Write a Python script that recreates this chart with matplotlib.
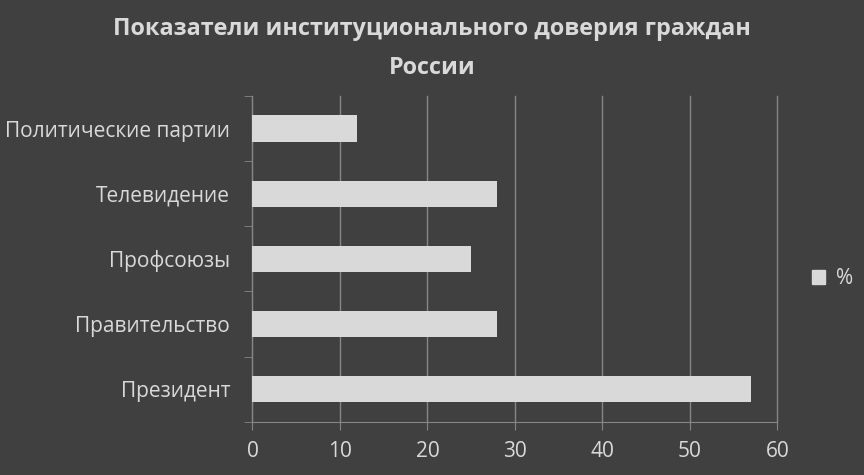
import matplotlib.pyplot as plt
from matplotlib.patches import Patch

categories = ['Президент', 'Правительство', 'Профсоюзы', 'Телевидение', 'Политические партии']
values = [57, 28, 25, 28, 12]
series_name = '%'
title = 'Показатели институционального доверия граждан\nРоссии'

BG = '#404040'
FG = '#d9d9d9'
GRID = '#868686'

plt.rcParams['font.family'] = ['Open Sans', 'DejaVu Sans']

fig = plt.figure(figsize=(8.64, 4.75), dpi=100, facecolor=BG)
ax = fig.add_axes([0.2922, 0.1122, 0.6076, 0.6858], facecolor=BG)

ypos = list(range(len(categories)))
ax.barh(ypos, values, height=0.4, color=FG, zorder=3, label=series_name)

ax.set_xlim(0, 60)
ax.set_ylim(-0.5, len(categories) - 0.5)
ax.set_xticks(range(0, 61, 10))
ax.set_yticks(ypos)
ax.set_yticklabels(categories)
ax.set_yticks([i - 0.5 for i in range(len(categories) + 1)], minor=True)

ax.grid(axis='x', color=GRID, linewidth=1, zorder=0)
for s in ['top', 'right']:
    ax.spines[s].set_visible(False)
ax.spines['left'].set_color(GRID)
ax.spines['bottom'].set_color(GRID)

ax.tick_params(axis='y', which='major', length=0, pad=16, labelsize=15, labelcolor=FG)
ax.tick_params(axis='y', which='minor', length=6, color=GRID, direction='out')
ax.tick_params(axis='x', length=6, color=GRID, labelsize=15, labelcolor=FG, pad=8)

# the last gridline sits on the axes edge, keep it from being clipped
for gl in ax.get_xgridlines():
    gl.set_clip_on(False)

fig.text(0.5, 0.965, title, ha='center', va='top', fontsize=16.8, fontweight='bold',
         color=FG, linespacing=1.85)

fig.legend(handles=[Patch(color=FG, label=series_name)], loc='center left',
           bbox_to_anchor=(0.918, 0.413), frameon=False, fontsize=15,
           labelcolor=FG, handlelength=0.65, handleheight=0.65, handletextpad=0.5)

fig.savefig('out.png', dpi=100, facecolor=BG)
